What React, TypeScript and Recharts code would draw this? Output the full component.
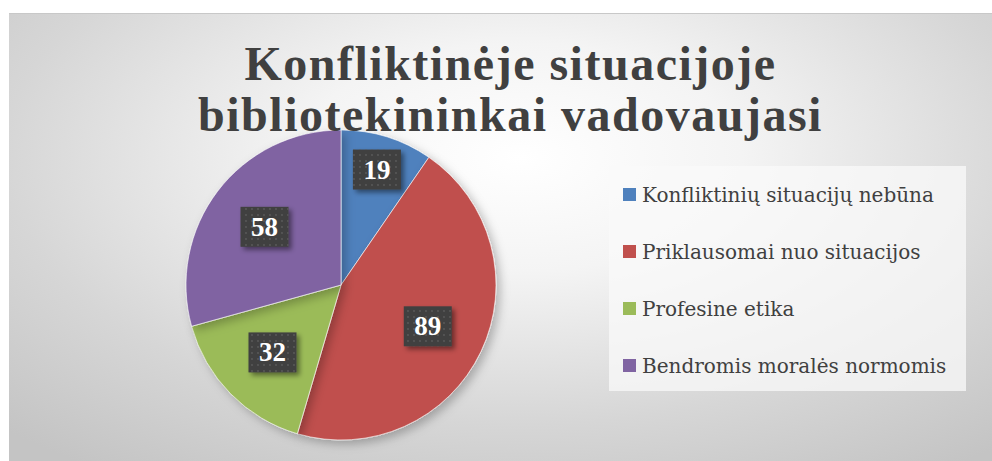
import { PieChart, Pie, Cell, Legend } from "recharts";

const categories = [
  "Konfliktinių situacijų nebūna",
  "Priklausomai nuo situacijos",
  "Profesine etika",
  "Bendromis moralės normomis",
];
const values = [19, 89, 32, 58];
const colors = ["#4f81bd", "#c0504d", "#9bbb59", "#8064a2"];
const titleLines = ["Konfliktinėje situacijoje", "bibliotekininkai vadovaujasi"];

const data = categories.map((name, i) => ({ name, value: values[i] }));

const RADIAN = Math.PI / 180;

function renderLabel(props: any) {
  const { cx, cy, midAngle, outerRadius, percent, value, index } = props;
  // small slices get pushed further out, like Excel's best fit
  const r = outerRadius * (percent < 0.12 ? 0.78 : 0.62);
  const x = cx + r * Math.cos(-midAngle * RADIAN);
  const y = cy + r * Math.sin(-midAngle * RADIAN);
  return (
    <g key={`lbl-${index}`}>
      <rect
        x={x - 24}
        y={y - 20}
        width={48}
        height={40}
        fill="#404040"
        filter="url(#lblShadow)"
      />
      <rect x={x - 24} y={y - 20} width={48} height={40} fill="url(#dots)" />
      <text
        x={x}
        y={y + 9}
        textAnchor="middle"
        fill="#ffffff"
        fontFamily="'Liberation Serif', serif"
        fontWeight="bold"
        fontSize={27}
      >
        {value}
      </text>
    </g>
  );
}

function LegendBox({ payload }: any) {
  const items = [...(payload || [])].sort(
    (a: any, b: any) => categories.indexOf(a.value) - categories.indexOf(b.value)
  );
  return (
    <div
      style={{
        width: 357,
        height: 225,
        background: "rgba(250,250,250,0.75)",
        boxSizing: "border-box",
      }}
    >
      {items.map((entry: any, i: number) => (
        <div
          key={i}
          style={{
            display: "flex",
            alignItems: "center",
            height: 57,
            paddingLeft: 14,
          }}
        >
          <span
            style={{
              width: 13,
              height: 13,
              background: entry.color,
              marginRight: 6,
              display: "inline-block",
              flexShrink: 0,
            }}
          />
          <span
            style={{
              fontFamily: "'DejaVu Serif', serif",
              fontSize: 20,
              color: "#404040",
              whiteSpace: "nowrap",
            }}
          >
            {entry.value}
          </span>
        </div>
      ))}
    </div>
  );
}

export default function App() {
  return (
    <div
      style={{
        position: "absolute",
        left: 9,
        top: 13,
        width: 983,
        height: 448,
        background:
          "radial-gradient(ellipse 75% 85% at 52% 32%, #ffffff 0%, #f4f4f4 30%, #d6d6d6 70%, #c4c4c4 100%)",
        borderTop: "1px solid #c8c8c8",
        overflow: "hidden",
      }}
    >
      <div
        style={{
          position: "absolute",
          left: 20,
          top: 24,
          width: 963,
          textAlign: "center",
          fontFamily: "'Liberation Serif', serif",
          fontWeight: "bold",
          fontSize: 48,
          letterSpacing: 1.5,
          lineHeight: "51px",
          color: "#404040",
          zIndex: 2,
          pointerEvents: "none",
        }}
      >
        {titleLines.map((t, i) => (
          <div key={i}>{t}</div>
        ))}
      </div>
      <PieChart width={983} height={448} margin={{ top: 0, right: 0, bottom: 0, left: 0 }}>
        <defs>
          <filter id="lblShadow" x="-30%" y="-30%" width="170%" height="170%">
            <feDropShadow dx="3" dy="3" stdDeviation="2.5" floodColor="#000" floodOpacity="0.45" />
          </filter>
          <filter id="pieShadow" x="-20%" y="-20%" width="150%" height="150%">
            <feDropShadow dx="4" dy="4" stdDeviation="5" floodColor="#000" floodOpacity="0.25" />
          </filter>
          <pattern id="dots" width="6" height="6" patternUnits="userSpaceOnUse">
            <circle cx="3" cy="3" r="0.9" fill="#5a5a5a" />
          </pattern>
        </defs>
        <Pie
          data={data}
          dataKey="value"
          nameKey="name"
          cx={332}
          cy={271}
          outerRadius={155}
          startAngle={90}
          endAngle={-270}
          stroke="rgba(255,255,255,0.6)"
          strokeWidth={1}
          label={renderLabel}
          labelLine={false}
          isAnimationActive={false}
          style={{ filter: "url(#pieShadow)" }}
        >
          {data.map((_, i) => (
            <Cell key={`cell-${i}`} fill={colors[i]} />
          ))}
        </Pie>
        <Legend
          layout="vertical"
          align="right"
          verticalAlign="middle"
          content={LegendBox}
          wrapperStyle={{ left: 600, top: 152, width: 357, height: 225 }}
        />
      </PieChart>
    </div>
  );
}
